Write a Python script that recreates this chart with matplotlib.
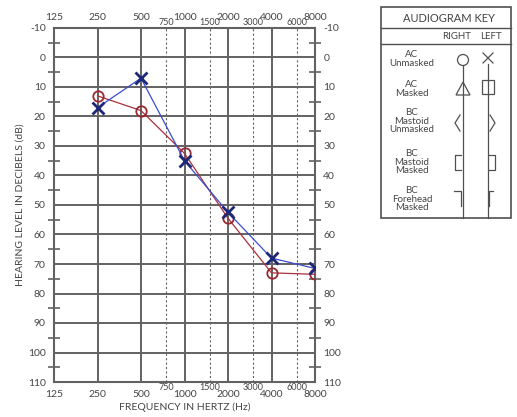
import matplotlib
matplotlib.use('Agg')
import matplotlib.pyplot as plt
from matplotlib.patches import Rectangle, Circle, Polygon

# audiogram data (dB HL)
freqs = [250, 500, 1000, 2000, 4000, 8000]
right_ear = [13, 18, 32.5, 54.5, 73, 73.5]   # red circles
left_ear = [17, 7, 35, 52.5, 68, 71.5]        # blue crosses

main_freqs = [125, 250, 500, 1000, 2000, 4000, 8000]
mid_freqs = [750, 1500, 3000, 6000]
db_ticks = list(range(-10, 111, 10))
db_minor = list(range(-5, 106, 10))

key_rows = ['AC\nUnmasked', 'AC\nMasked', 'BC\nMastoid\nUnmasked',
            'BC\nMastoid\nMasked', 'BC\nForehead\nMasked']

plt.rcParams['font.family'] = ['Lato', 'DejaVu Sans']
txt = '#454545'
gridc = '#626262'

fig = plt.figure(figsize=(5.17, 4.17), dpi=100)
ax = fig.add_axes([54 / 517, 1 - 382 / 417, 261 / 517, 354 / 417])

ax.set_xscale('log', base=2)
ax.set_xlim(125, 8000)
ax.set_ylim(110, -10)

for f in main_freqs[1:-1]:
    ax.axvline(f, color=gridc, lw=1.4, zorder=1)
for f in mid_freqs:
    ax.axvline(f, color=gridc, lw=0.8, ls=(0, (2, 2)), zorder=1)
for d in db_ticks[1:-1]:
    ax.axhline(d, color=gridc, lw=1.4, zorder=1)

for s in ax.spines.values():
    s.set_color(gridc)
    s.set_linewidth(1.5)

ax.set_xticks([])
ax.minorticks_off()
ax.set_yticks(db_ticks)
ax.set_yticklabels([str(d) for d in db_ticks])
ax.set_yticks(db_minor, minor=True)
ax.tick_params(axis='y', which='major', length=0, pad=6, labelsize=7.5,
               labelcolor=txt, left=True, right=True, labelleft=True, labelright=True)
ax.tick_params(axis='y', which='minor', length=9, width=1.2, color=gridc,
               direction='inout', left=True, right=True)

xt = ax.get_xaxis_transform()
for f in main_freqs:
    ax.text(f, 1.018, str(f), transform=xt, ha='center', va='bottom',
            fontsize=7.5, color=txt, clip_on=False)
    ax.text(f, -0.022, str(f), transform=xt, ha='center', va='top',
            fontsize=7.5, color=txt, clip_on=False)
for f in mid_freqs:
    ax.text(f, 1.003, str(f), transform=xt, ha='center', va='bottom',
            fontsize=6.5, color=txt, clip_on=False)
    ax.text(f, -0.002, str(f), transform=xt, ha='center', va='top',
            fontsize=6.5, color=txt, clip_on=False)

ax.plot(freqs, right_ear, color='#a8303c', lw=0.9, marker='o', ms=7.5,
        mfc='none', mec='#9a2830', mew=1.3, zorder=3)
ax.plot(freqs, left_ear, color='#3a4ed0', lw=0.9, marker='x', ms=8,
        mec='#1e2878', mew=2.0, zorder=4)

fig.text(20 / 517, 1 - 205 / 417, 'HEARING LEVEL IN DECIBELS (dB)', rotation=90,
         ha='center', va='center', fontsize=7.5, color=txt)
fig.text(185 / 517, 1 - 407 / 417, 'FREQUENCY IN HERTZ (Hz)',
         ha='center', va='center', fontsize=7.5, color=txt)

# audiogram key, drawn in pixel coordinates
kx = fig.add_axes([0, 0, 1, 1], facecolor='none')
kx.set_xlim(0, 517)
kx.set_ylim(417, 0)
kx.axis('off')
kc = '#505050'
kx.add_patch(Rectangle((381, 7), 130, 211, fill=False, ec=kc, lw=1.2))
kx.plot([381, 511], [28, 28], color=kc, lw=1.0)
kx.plot([381, 511], [44, 44], color=kc, lw=1.0)
kx.plot([463, 463], [66, 218], color=kc, lw=0.9)
kx.plot([488, 488], [64, 218], color=kc, lw=0.9)
kx.text(449, 18, 'AUDIOGRAM KEY', ha='center', va='center', fontsize=8, color=txt)
kx.text(457, 36, 'RIGHT', ha='center', va='center', fontsize=7, color=txt)
kx.text(491, 36, 'LEFT', ha='center', va='center', fontsize=7, color=txt)
row_y = [59, 89, 121, 162, 199]
for lab, y in zip(key_rows, row_y):
    kx.text(412, y, lab, ha='center', va='center', fontsize=7,
            color=txt, linespacing=0.9)

# key symbols
kx.add_patch(Circle((463, 60), 5.5, fill=False, ec=kc, lw=0.9))
kx.plot([483, 493], [53, 63], color=kc, lw=0.9)
kx.plot([483, 493], [63, 53], color=kc, lw=0.9)
kx.add_patch(Polygon([[456, 95], [470, 95], [463, 82]], closed=True,
                     fill=False, ec=kc, lw=0.9))
kx.add_patch(Rectangle((482, 80), 12, 14, fill=False, ec=kc, lw=0.9))
kx.plot([460, 455, 460], [115, 123, 131], color=kc, lw=0.9)
kx.plot([490, 495, 490], [115, 123, 131], color=kc, lw=0.9)
kx.plot([461, 455, 455, 461], [155, 155, 170, 170], color=kc, lw=0.9)
kx.plot([489, 495, 495, 489], [155, 155, 170, 170], color=kc, lw=0.9)
kx.plot([454, 461, 461], [191, 191, 206], color=kc, lw=0.9)
kx.plot([493, 489, 489], [191, 191, 206], color=kc, lw=0.9)

plt.savefig('out.png', dpi=100)
